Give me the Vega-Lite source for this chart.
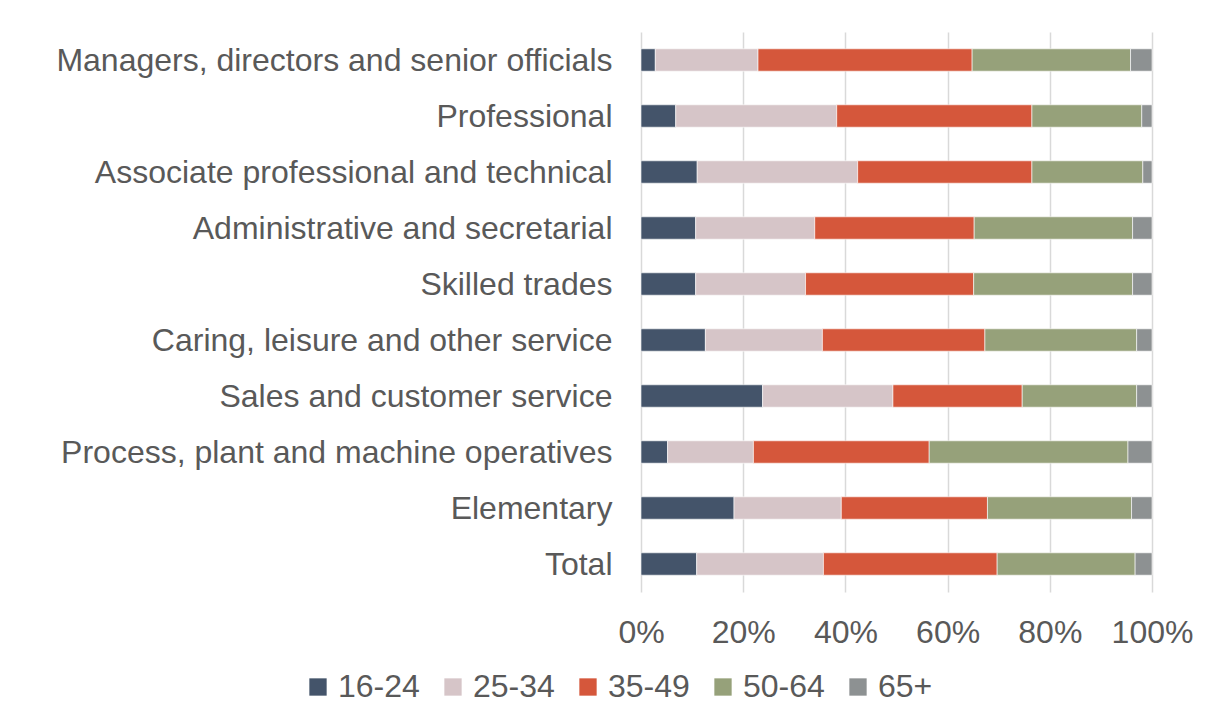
{
  "$schema": "https://vega.github.io/schema/vega-lite/v6.json",
  "width": 511,
  "height": 560,
  "autosize": {"type": "none"},
  "padding": {"left": 641, "top": 32, "right": 53, "bottom": 130},
  "background": "#ffffff",
  "config": {
    "font": "Liberation Sans",
    "view": {"stroke": null},
    "axis": {"labelFont": "Liberation Sans", "labelColor": "#595959", "labelFontSize": 32},
    "legend": {"labelFont": "Liberation Sans", "labelColor": "#595959", "labelFontSize": 32}
  },
  "data": {
    "values": [
      {"occupation": "Managers, directors and senior officials", "age": "16-24", "k": 1, "pct": 2.8},
      {"occupation": "Managers, directors and senior officials", "age": "25-34", "k": 2, "pct": 20.1},
      {"occupation": "Managers, directors and senior officials", "age": "35-49", "k": 3, "pct": 41.9},
      {"occupation": "Managers, directors and senior officials", "age": "50-64", "k": 4, "pct": 31.0},
      {"occupation": "Managers, directors and senior officials", "age": "65+", "k": 5, "pct": 4.2},
      {"occupation": "Professional", "age": "16-24", "k": 1, "pct": 6.8},
      {"occupation": "Professional", "age": "25-34", "k": 2, "pct": 31.5},
      {"occupation": "Professional", "age": "35-49", "k": 3, "pct": 38.2},
      {"occupation": "Professional", "age": "50-64", "k": 4, "pct": 21.5},
      {"occupation": "Professional", "age": "65+", "k": 5, "pct": 2.0},
      {"occupation": "Associate professional and technical", "age": "16-24", "k": 1, "pct": 11.0},
      {"occupation": "Associate professional and technical", "age": "25-34", "k": 2, "pct": 31.4},
      {"occupation": "Associate professional and technical", "age": "35-49", "k": 3, "pct": 34.1},
      {"occupation": "Associate professional and technical", "age": "50-64", "k": 4, "pct": 21.7},
      {"occupation": "Associate professional and technical", "age": "65+", "k": 5, "pct": 1.8},
      {"occupation": "Administrative and secretarial", "age": "16-24", "k": 1, "pct": 10.7},
      {"occupation": "Administrative and secretarial", "age": "25-34", "k": 2, "pct": 23.3},
      {"occupation": "Administrative and secretarial", "age": "35-49", "k": 3, "pct": 31.2},
      {"occupation": "Administrative and secretarial", "age": "50-64", "k": 4, "pct": 31.0},
      {"occupation": "Administrative and secretarial", "age": "65+", "k": 5, "pct": 3.8},
      {"occupation": "Skilled trades", "age": "16-24", "k": 1, "pct": 10.7},
      {"occupation": "Skilled trades", "age": "25-34", "k": 2, "pct": 21.5},
      {"occupation": "Skilled trades", "age": "35-49", "k": 3, "pct": 32.9},
      {"occupation": "Skilled trades", "age": "50-64", "k": 4, "pct": 31.1},
      {"occupation": "Skilled trades", "age": "65+", "k": 5, "pct": 3.8},
      {"occupation": "Caring, leisure and other service", "age": "16-24", "k": 1, "pct": 12.6},
      {"occupation": "Caring, leisure and other service", "age": "25-34", "k": 2, "pct": 22.9},
      {"occupation": "Caring, leisure and other service", "age": "35-49", "k": 3, "pct": 31.8},
      {"occupation": "Caring, leisure and other service", "age": "50-64", "k": 4, "pct": 29.7},
      {"occupation": "Caring, leisure and other service", "age": "65+", "k": 5, "pct": 3.0},
      {"occupation": "Sales and customer service", "age": "16-24", "k": 1, "pct": 23.8},
      {"occupation": "Sales and customer service", "age": "25-34", "k": 2, "pct": 25.5},
      {"occupation": "Sales and customer service", "age": "35-49", "k": 3, "pct": 25.3},
      {"occupation": "Sales and customer service", "age": "50-64", "k": 4, "pct": 22.4},
      {"occupation": "Sales and customer service", "age": "65+", "k": 5, "pct": 3.0},
      {"occupation": "Process, plant and machine operatives", "age": "16-24", "k": 1, "pct": 5.2},
      {"occupation": "Process, plant and machine operatives", "age": "25-34", "k": 2, "pct": 16.8},
      {"occupation": "Process, plant and machine operatives", "age": "35-49", "k": 3, "pct": 34.4},
      {"occupation": "Process, plant and machine operatives", "age": "50-64", "k": 4, "pct": 38.9},
      {"occupation": "Process, plant and machine operatives", "age": "65+", "k": 5, "pct": 4.7},
      {"occupation": "Elementary", "age": "16-24", "k": 1, "pct": 18.2},
      {"occupation": "Elementary", "age": "25-34", "k": 2, "pct": 21.0},
      {"occupation": "Elementary", "age": "35-49", "k": 3, "pct": 28.6},
      {"occupation": "Elementary", "age": "50-64", "k": 4, "pct": 28.2},
      {"occupation": "Elementary", "age": "65+", "k": 5, "pct": 4.0},
      {"occupation": "Total", "age": "16-24", "k": 1, "pct": 10.9},
      {"occupation": "Total", "age": "25-34", "k": 2, "pct": 24.8},
      {"occupation": "Total", "age": "35-49", "k": 3, "pct": 34.0},
      {"occupation": "Total", "age": "50-64", "k": 4, "pct": 27.0},
      {"occupation": "Total", "age": "65+", "k": 5, "pct": 3.3}
    ]
  },
  "mark": {"type": "bar", "stroke": "#ffffff", "strokeWidth": 0.6},
  "encoding": {
    "y": {
      "field": "occupation",
      "type": "nominal",
      "sort": null,
      "title": null,
      "scale": {"paddingInner": 0.6, "paddingOuter": 0.3},
      "axis": {"ticks": false, "domain": false, "labelPadding": 29, "labelLimit": 700, "grid": false, "labelBaseline": "middle", "labelOffset": 1}
    },
    "x": {
      "field": "pct",
      "type": "quantitative",
      "stack": "normalize",
      "title": null,
      "scale": {"domain": [0, 1], "nice": false},
      "axis": {
        "values": [0, 0.2, 0.4, 0.6, 0.8, 1],
        "format": ".0%",
        "ticks": false,
        "domain": false,
        "labelPadding": 25,
        "grid": true,
        "gridColor": "#d9d9d9",
        "gridWidth": 1.5,
        "labelFlush": false
      }
    },
    "color": {
      "field": "age",
      "type": "nominal",
      "title": null,
      "scale": {
        "domain": ["16-24", "25-34", "35-49", "50-64", "65+"],
        "range": ["#44546A", "#D6C5C8", "#D5573B", "#96A17A", "#8D9192"]
      },
      "legend": {
        "orient": "none",
        "direction": "horizontal",
        "legendX": -339,
        "legendY": 639,
        "symbolType": "square",
        "symbolSize": 300,
        "symbolStrokeWidth": 0,
        "labelOffset": 4,
        "columnPadding": 17
      }
    },
    "order": {"field": "k", "type": "quantitative"}
  }
}
